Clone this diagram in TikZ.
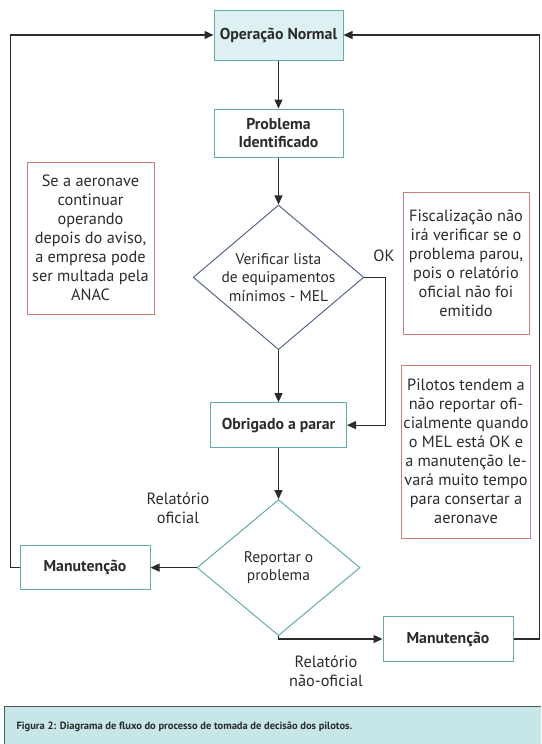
\documentclass[tikz,border=0pt]{standalone}
\usepackage{fontspec}
\setmainfont{PT Sans}
\usetikzlibrary{shapes.geometric, arrows.meta, positioning}
\definecolor{tealline}{HTML}{5FABAD}
\definecolor{tealfill}{HTML}{DDF1F2}
\definecolor{melline}{HTML}{56668A}
\definecolor{noteline}{HTML}{D27A7A}
\definecolor{capfill}{HTML}{C6E6E8}
\definecolor{ink}{HTML}{2B2B2B}
\tikzstyle{process} = [rectangle, minimum width=129pt, minimum height=48pt, text centered, align=center, draw=tealline, line width=1pt, text=ink, font=\bfseries\fontsize{15.8}{18}\selectfont]
\tikzstyle{decision} = [diamond, aspect=1.18, minimum width=163pt, minimum height=136pt, inner sep=0pt, align=center, line width=1pt, text=ink, font=\fontsize{15.5}{18.5}\selectfont]
\tikzstyle{note} = [rectangle, draw=noteline, line width=0.9pt, align=center, text=ink, inner sep=2pt, font=\fontsize{16.3}{19}\selectfont]
\tikzstyle{tag} = [align=center, text=ink, font=\fontsize{16.3}{18.5}\selectfont]
\tikzstyle{arrow} = [line width=1.2pt, draw=ink, -{Triangle[length=9pt,width=8pt]}]

\begin{document}
\begin{tikzpicture}[x=1pt, y=-1pt]
	\useasboundingbox (0,0) rectangle (541,744);
	\node (normal) [process, fill=tealfill, minimum height=50pt] at (278.5,35) {Operação Normal};
	\node (ident) [process, below=48pt of normal] {Problema\\Identificado};
	\node (mel) [decision, draw=melline, below=47pt of ident] {Verificar lista\\de equipamentos\\mínimos - MEL};
	\node (stop) [process, minimum width=136pt, minimum height=45pt, below=52pt of mel] {Obrigado a parar};
	\node (report) [decision, draw=tealline, below=51pt of stop] {Reportar o\\problema};
	\node (maintoff) [process, minimum width=130pt, minimum height=44pt, left=46pt of report] {Manutenção};
	\node (maintun) [process, minimum width=130pt, minimum height=45pt] at (448,639) {Manutenção};
	% notes
	\node (fine) [note, minimum width=127pt, minimum height=152pt] at (90.5,238) {Se a aeronave\\continuar\\operando\\depois do aviso,\\a empresa pode\\ser multada pela\\ANAC};
	\node (audit) [note, minimum width=126pt, minimum height=142pt] at (466,263) {Fiscalização não\\irá verificar se o\\problema parou,\\pois o relatório\\oficial não foi\\emitido};
	\node (pilots) [note, minimum width=126pt, minimum height=173pt] at (466,451.5) {Pilotos tendem a\\não reportar ofi-\\cialmente quando\\o MEL está OK e\\a manutenção le-\\vará muito tempo\\para consertar a\\aeronave};
	% labels
	\node (ok) [tag] at (384,256) {OK};
	\node (offrep) [tag] at (178,508) {Relatório\\oficial};
	\node (unrep) [tag] at (326,671) {Relatório\\não-oficial};
	% caption
	\fill [capfill] (4,706) rectangle (541,744);
	\draw [ink!80, line width=0.8pt] (541,706) -- (4,706) -- (4,744);
	\node (caption) [anchor=west, text=ink, font=\bfseries\fontsize{10.5}{12}\selectfont] at (13,727) {Figura 2: Diagrama de fluxo do processo de tomada de decisão dos pilotos.};
	% connectors
	\draw [arrow] (normal) -- (ident);
	\draw [arrow] (ident) -- (mel);
	\draw [arrow] (mel) -- (stop);
	\draw [arrow] (mel.east) -- ++(21,0) |- (stop.east);
	\draw [arrow] (stop) -- (report);
	\draw [arrow] (report.west) -- (maintoff.east);
	\draw [arrow] (report.south) |- (maintun.west);
	\draw [arrow] (maintoff.west) -- ++(-9,0) |- (normal.west);
	\draw [arrow] (maintun.east) -- ++(26,0) |- (normal.east);
\end{tikzpicture}
\end{document}
